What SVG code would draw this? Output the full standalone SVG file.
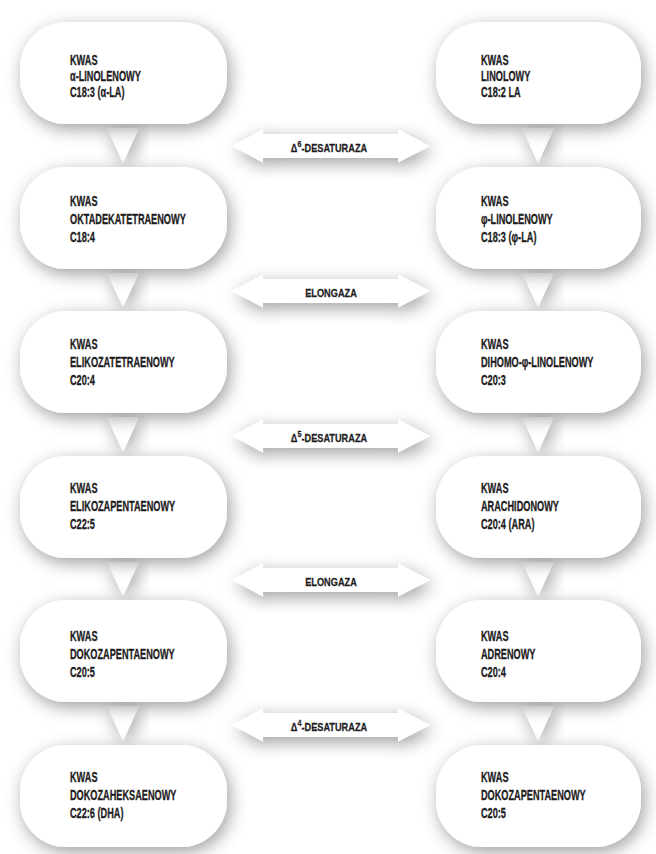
<svg xmlns="http://www.w3.org/2000/svg" xmlns:xlink="http://www.w3.org/1999/xlink" width="656" height="854" viewBox="0 0 656 854">
<defs>
<filter id="sh" x="-30%" y="-50%" width="160%" height="200%">
<feDropShadow dx="3" dy="5" stdDeviation="8.5" flood-color="#000" flood-opacity="0.38"/>
</filter>
<path id="dbl" d="M232,0 L263,-16.5 L263,-12 L398,-12 L398,-16.5 L430,0 L398,16.5 L398,12 L263,12 L263,16.5 Z"/>
<style>
.box{fill:#fff;filter:url(#sh)}
.tri{fill:#fff;filter:url(#sh)}
.arr{fill:#fff;filter:url(#sh)}
.t{font-family:"Liberation Sans",Arial,sans-serif;font-weight:bold;font-size:14px;fill:#1e1c1d;stroke:#1e1c1d;stroke-width:0.3px}
.a{font-family:"Liberation Sans",Arial,sans-serif;font-weight:bold;font-size:11.5px;fill:#1e1c1d;stroke:#1e1c1d;stroke-width:0.25px;text-anchor:middle}
.sup{font-size:9px}
</style>
</defs>
<rect width="656" height="854" fill="#fff"/>

<g id="connectors">
<polygon class="tri" points="107,128 139,128 123,163"/>
<polygon class="tri" points="107,273 139,273 123,307"/>
<polygon class="tri" points="107,417 139,417 123,452"/>
<polygon class="tri" points="107,562 139,562 123,596"/>
<polygon class="tri" points="107,706 139,706 123,741"/>
<polygon class="tri" points="522,128 554,128 538,163"/>
<polygon class="tri" points="522,273 554,273 538,307"/>
<polygon class="tri" points="522,417 554,417 538,452"/>
<polygon class="tri" points="522,562 554,562 538,596"/>
<polygon class="tri" points="522,706 554,706 538,741"/>
<use class="arr" xlink:href="#dbl" href="#dbl" y="146"/>
<use class="arr" xlink:href="#dbl" href="#dbl" y="291"/>
<use class="arr" xlink:href="#dbl" href="#dbl" y="436"/>
<use class="arr" xlink:href="#dbl" href="#dbl" y="580"/>
<use class="arr" xlink:href="#dbl" href="#dbl" y="725"/>
<text class="a" transform="translate(329,152) scale(0.8,1)">Δ<tspan class="sup" dy="-5.5">6</tspan><tspan dy="5.5">-DESATURAZA</tspan></text>
<text class="a" transform="translate(331,297) scale(0.8,1)">ELONGAZA</text>
<text class="a" transform="translate(329,442) scale(0.8,1)">Δ<tspan class="sup" dy="-5.5">5</tspan><tspan dy="5.5">-DESATURAZA</tspan></text>
<text class="a" transform="translate(331,586) scale(0.8,1)">ELONGAZA</text>
<text class="a" transform="translate(329,731) scale(0.8,1)">Δ<tspan class="sup" dy="-5.5">4</tspan><tspan dy="5.5">-DESATURAZA</tspan></text>
</g>

<g id="n-l1"><rect class="box" x="20" y="22" width="207" height="102" rx="46"/>
<text class="t" transform="translate(70,0) scale(0.655,1)"><tspan x="0" y="65">KWAS</tspan><tspan x="0" y="81">α-LINOLENOWY</tspan><tspan x="0" y="97">C18:3 (α-LA)</tspan></text></g>
<g id="n-l2"><rect class="box" x="20" y="167" width="207" height="102" rx="46"/>
<text class="t" transform="translate(70,0) scale(0.655,1)"><tspan x="0" y="206">KWAS</tspan><tspan x="0" y="224">OKTADEKATETRAENOWY</tspan><tspan x="0" y="242">C18:4</tspan></text></g>
<g id="n-l3"><rect class="box" x="20" y="311" width="207" height="102" rx="46"/>
<text class="t" transform="translate(70,0) scale(0.655,1)"><tspan x="0" y="349">KWAS</tspan><tspan x="0" y="367">ELIKOZATETRAENOWY</tspan><tspan x="0" y="385">C20:4</tspan></text></g>
<g id="n-l4"><rect class="box" x="20" y="456" width="207" height="102" rx="46"/>
<text class="t" transform="translate(70,0) scale(0.655,1)"><tspan x="0" y="493">KWAS</tspan><tspan x="0" y="511">ELIKOZAPENTAENOWY</tspan><tspan x="0" y="529">C22:5</tspan></text></g>
<g id="n-l5"><rect class="box" x="20" y="600" width="207" height="102" rx="46"/>
<text class="t" transform="translate(70,0) scale(0.655,1)"><tspan x="0" y="641">KWAS</tspan><tspan x="0" y="659">DOKOZAPENTAENOWY</tspan><tspan x="0" y="677">C20:5</tspan></text></g>
<g id="n-l6"><rect class="box" x="20" y="745" width="207" height="102" rx="46"/>
<text class="t" transform="translate(70,0) scale(0.655,1)"><tspan x="0" y="782">KWAS</tspan><tspan x="0" y="800">DOKOZAHEKSAENOWY</tspan><tspan x="0" y="818">C22:6 (DHA)</tspan></text></g>

<g id="n-r1"><rect class="box" x="436" y="22" width="205" height="102" rx="46"/>
<text class="t" transform="translate(481,0) scale(0.655,1)"><tspan x="0" y="65">KWAS</tspan><tspan x="0" y="81">LINOLOWY</tspan><tspan x="0" y="97">C18:2 LA</tspan></text></g>
<g id="n-r2"><rect class="box" x="436" y="167" width="205" height="102" rx="46"/>
<text class="t" transform="translate(481,0) scale(0.655,1)"><tspan x="0" y="206">KWAS</tspan><tspan x="0" y="224">φ-LINOLENOWY</tspan><tspan x="0" y="242">C18:3 (φ-LA)</tspan></text></g>
<g id="n-r3"><rect class="box" x="436" y="311" width="205" height="102" rx="46"/>
<text class="t" transform="translate(481,0) scale(0.655,1)"><tspan x="0" y="349">KWAS</tspan><tspan x="0" y="367">DIHOMO-φ-LINOLENOWY</tspan><tspan x="0" y="385">C20:3</tspan></text></g>
<g id="n-r4"><rect class="box" x="436" y="456" width="205" height="102" rx="46"/>
<text class="t" transform="translate(481,0) scale(0.655,1)"><tspan x="0" y="493">KWAS</tspan><tspan x="0" y="511">ARACHIDONOWY</tspan><tspan x="0" y="529">C20:4 (ARA)</tspan></text></g>
<g id="n-r5"><rect class="box" x="436" y="600" width="205" height="102" rx="46"/>
<text class="t" transform="translate(481,0) scale(0.655,1)"><tspan x="0" y="641">KWAS</tspan><tspan x="0" y="659">ADRENOWY</tspan><tspan x="0" y="677">C20:4</tspan></text></g>
<g id="n-r6"><rect class="box" x="436" y="745" width="205" height="102" rx="46"/>
<text class="t" transform="translate(481,0) scale(0.655,1)"><tspan x="0" y="782">KWAS</tspan><tspan x="0" y="800">DOKOZAPENTAENOWY</tspan><tspan x="0" y="818">C20:5</tspan></text></g>
</svg>
